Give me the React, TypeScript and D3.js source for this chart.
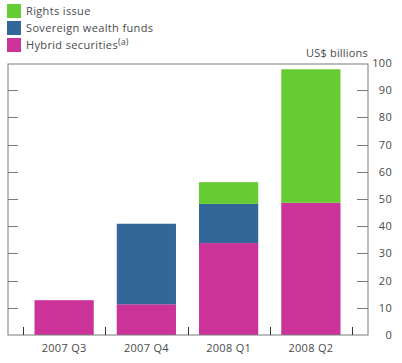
import React from "react";
import * as d3 from "d3";

const quarters = ["2007 Q3", "2007 Q4", "2008 Q1", "2008 Q2"];
const hybrid = [12.8, 11.3, 33.8, 48.6];
const sovereign = [0, 29.6, 14.4, 0];
const rights = [0, 0, 8, 49.1];
const yTicks = [0, 10, 20, 30, 40, 50, 60, 70, 80, 90, 100];

const seriesKeys = ["hybrid", "sovereign", "rights"];
const seriesNames = ["Hybrid securities", "Sovereign wealth funds", "Rights issue"];
const colors = ["#cc3399", "#336699", "#66cc33"];

const W = 402;
const H = 363;
const frame = { left: 8, right: 368, top: 64, bottom: 335 };

export default function App() {
  const rows = quarters.map((q, i) => ({
    quarter: q,
    hybrid: hybrid[i],
    sovereign: sovereign[i],
    rights: rights[i],
  }));
  const stacked = d3.stack<any>().keys(seriesKeys)(rows);

  const x = d3
    .scaleBand()
    .domain(quarters)
    .range([23, 352])
    .paddingInner(0.28)
    .paddingOuter(0.14);
  const y = d3.scaleLinear().domain([0, 100]).range([frame.bottom, frame.top - 1]);

  const font = "'Open Sans', 'DejaVu Sans', sans-serif";
  const text = "#4a4a4a";
  const axis = "#7a7a7a";

  // separators between categories
  const seps = d3.range(quarters.length + 1).map(i => 23 + i * (329 / quarters.length));

  const legend = [2, 1, 0];

  return (
    <svg
      width={W}
      height={H}
      style={{ position: "absolute", left: 0, top: 0, background: "#fff" }}
      fontFamily={font}
    >
      {legend.map((s, i) => (
        <g key={s} transform={`translate(7, ${4 + i * 17})`}>
          <rect width={14} height={14} fill={colors[s]} />
          <text x={19} y={11} fontSize={11} fill={text} letterSpacing={0.35}>
            {seriesNames[s]}
            {s === 0 && (
              <tspan dy={-4} fontSize={9} letterSpacing={0}>
                (a)
              </tspan>
            )}
          </text>
        </g>
      ))}

      {stacked.map((layer, si) => (
        <g key={layer.key} fill={colors[si]}>
          {layer.map((d: any) =>
            d[1] - d[0] > 0 ? (
              <rect
                key={d.data.quarter}
                x={x(d.data.quarter)}
                y={y(d[1])}
                width={x.bandwidth()}
                height={y(d[0]) - y(d[1])}
              />
            ) : null
          )}
        </g>
      ))}

      <rect
        x={frame.left}
        y={frame.top}
        width={frame.right - frame.left}
        height={frame.bottom - frame.top}
        fill="none"
        stroke={axis}
        strokeWidth={1}
      />

      {yTicks.slice(1, -1).map(t => (
        <g key={t} stroke={axis}>
          <line x1={frame.left} x2={frame.left + 10} y1={Math.round(y(t)) + 0.5} y2={Math.round(y(t)) + 0.5} />
          <line x1={frame.right - 11} x2={frame.right} y1={Math.round(y(t)) + 0.5} y2={Math.round(y(t)) + 0.5} />
        </g>
      ))}

      {yTicks.map(t => (
        <text key={t} x={392} y={y(t) + 4} fontSize={11} fill={text} textAnchor="end" letterSpacing={0.3}>
          {t}
        </text>
      ))}

      <text x={368} y={57} fontSize={11} fill={text} textAnchor="end" letterSpacing={0.2}>
        US$ billions
      </text>

      {seps.map(s => (
        <line
          key={s}
          x1={Math.round(s) + 0.5}
          x2={Math.round(s) + 0.5}
          y1={frame.bottom - 8}
          y2={frame.bottom}
          stroke="#333"
        />
      ))}

      {quarters.map(q => (
        <text
          key={q}
          x={(x(q) as number) + x.bandwidth() / 2}
          y={352}
          fontSize={11}
          fill={text}
          textAnchor="middle"
          letterSpacing={0.3}
        >
          {q}
        </text>
      ))}
    </svg>
  );
}
